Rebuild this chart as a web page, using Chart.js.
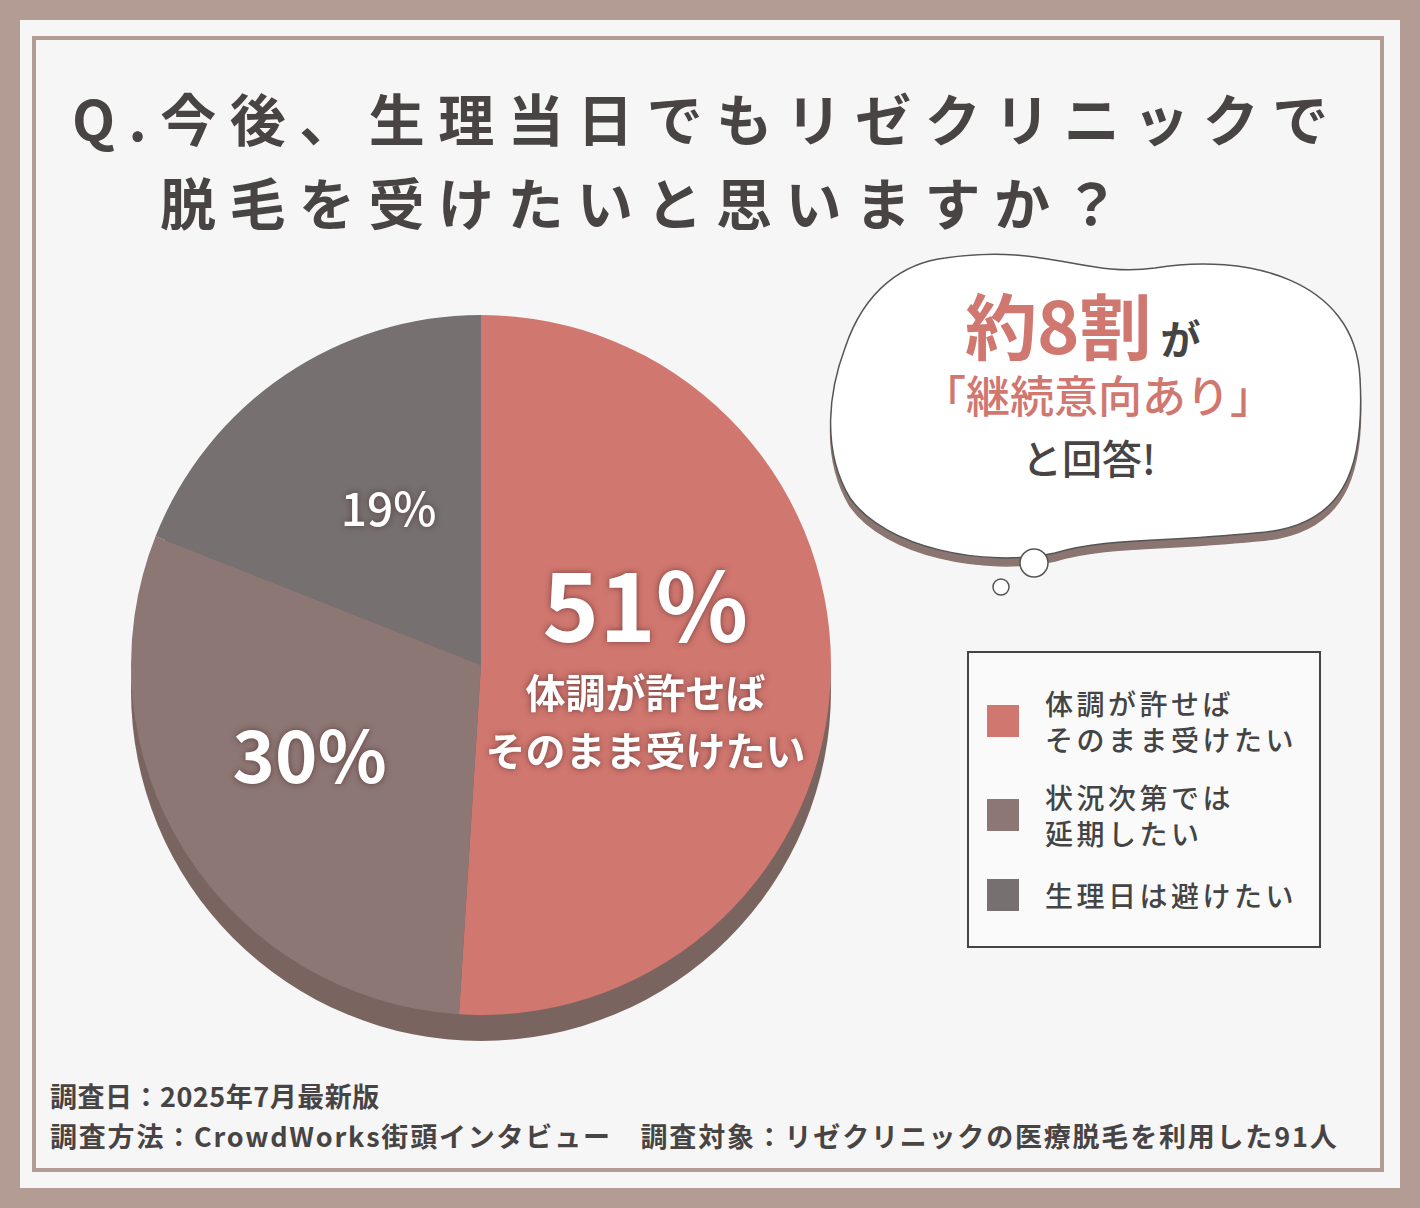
<!DOCTYPE html>
<html><head><meta charset="utf-8">
<script src="https://cdn.jsdelivr.net/npm/chart.js@4/dist/chart.umd.min.js"></script>
<style>
body{margin:0;width:1420px;height:1208px;background:#b39c93;font-family:"Noto Sans CJK JP",sans-serif;position:relative;overflow:hidden}
#card{position:absolute;left:20px;top:20px;width:1380px;height:1168px;background:#f7f6f6}
#frame{position:absolute;left:32px;top:36px;width:1352px;height:1136px;border:4px solid #b39c93;box-sizing:border-box}
.t{position:absolute;color:#484444;font-weight:700;white-space:nowrap}
#legend{position:absolute;left:967px;top:651px;width:354px;height:297px;border:2px solid #444;box-sizing:border-box;background:#fafafa}
.li{position:absolute;left:20px;font-size:28px;color:#444;font-weight:500;line-height:36px;letter-spacing:3.5px}
.sw{position:absolute;width:32px;height:32px;left:-2px}
canvas{position:absolute}
</style></head><body>
<div id="card"></div><div id="frame"></div>
<div class="t" style="left:72px;top:76px;font-size:56px;letter-spacing:13.5px">Q.今後、生理当日でもリゼクリニックで</div>
<div class="t" style="left:160px;top:160px;font-size:56px;letter-spacing:13.5px">脱毛を受けたいと思いますか？</div>
<svg style="position:absolute;left:820px;top:240px" width="550" height="370">
<path d="M120 10 C220 -5 260 30 330 20 C420 5 530 30 535 130 C540 220 520 280 430 285 C330 295 280 290 230 305 C160 320 60 300 25 250 C-5 200 5 140 20 100 C40 40 80 15 120 10 Z" fill="#fff" stroke="#555" stroke-width="1.5" transform="translate(5,8)" style="filter:drop-shadow(0 8px 0 #8a7571)"/>
<circle cx="214" cy="323" r="14" fill="#fff" stroke="#555" stroke-width="1.5"/>
<circle cx="181" cy="347" r="8" fill="#fff" stroke="#555" stroke-width="1.5"/>
</svg>
<div class="t" style="left:965px;top:270px;font-size:72px;color:#d0776f">約8割<span style="font-size:40px;color:#444"> が</span></div>
<div class="t" style="left:922px;top:362px;font-size:44px;color:#d0776f;font-weight:500">「継続意向あり」</div>
<div class="t" style="left:1022px;top:428px;font-size:40px;font-weight:500">と回答!</div>
<div id="legend">
<div class="li" style="top:32px"><div class="sw" style="top:20px;background:#d0776f"></div><div style="padding-left:56px">体調が許せば<br>そのまま受けたい</div></div>
<div class="li" style="top:126px"><div class="sw" style="top:20px;background:#8c7774"></div><div style="padding-left:56px">状況次第では<br>延期したい</div></div>
<div class="li" style="top:224px"><div class="sw" style="top:2px;background:#767070"></div><div style="padding-left:56px">生理日は避けたい</div></div>
</div>
<div class="t" style="left:50px;top:1076px;font-size:27px;font-weight:600;letter-spacing:0.5px">調査日：2025年7月最新版</div>
<div class="t" style="left:50px;top:1116px;font-size:27px;font-weight:600;letter-spacing:1.8px">調査方法：CrowdWorks街頭インタビュー　調査対象：リゼクリニックの医療脱毛を利用した91人</div>
<canvas id="c" width="760" height="760" style="left:101px;top:285px"></canvas>
<script>
// survey answers
const categories = ["体調が許せばそのまま受けたい", "状況次第では延期したい", "生理日は避けたい"];
const values = [51, 30, 19];
const colors = ["#d0776f", "#8c7774", "#767070"];

// darker rim under the pie for the 3D look
const rim = {
    id: "rim",
    beforeDatasetsDraw(chart) {
        const a = chart.getDatasetMeta(0).data[0];
        const ctx = chart.ctx;
        ctx.save();
        ctx.fillStyle = "#7a6460";
        ctx.beginPath();
        ctx.arc(a.x, a.y + 26, a.outerRadius, 0, Math.PI * 2);
        ctx.fill();
        ctx.restore();
    }
};

// percent text inside slices
const labels = {
    id: "labels",
    afterDatasetsDraw(chart) {
        const ctx = chart.ctx;
        const arcs = chart.getDatasetMeta(0).data;
        const spec = [
            { r: 0.47, dy: -65, font: "700 96px 'Noto Sans CJK JP'" },
            { r: 0.58, dy: -18, font: "700 72px 'Noto Sans CJK JP'" },
            { r: 0.47, dy: -20, font: "500 46px 'Noto Sans CJK JP'" }
        ];
        ctx.save();
        ctx.textAlign = "center";
        ctx.textBaseline = "middle";
        ctx.fillStyle = "#fff";
        ctx.shadowColor = "rgba(80,40,40,0.7)";
        ctx.shadowBlur = 6;
        arcs.forEach((a, i) => {
            const mid = (a.startAngle + a.endAngle) / 2;
            const x = a.x + Math.cos(mid) * a.outerRadius * spec[i].r;
            const y = a.y + Math.sin(mid) * a.outerRadius * spec[i].r + spec[i].dy;
            ctx.font = spec[i].font;
            ctx.fillText(values[i] + "%", x, y);
            if (i === 0) {
                ctx.font = "700 40px 'Noto Sans CJK JP'";
                ctx.fillText("体調が許せば", x, y + 88);
                ctx.fillText("そのまま受けたい", x, y + 146);
            }
        });
        ctx.restore();
    }
};

new Chart(document.getElementById("c"), {
    type: "pie",
    data: { labels: categories, datasets: [{ data: values, backgroundColor: colors, borderWidth: 0 }] },
    options: {
        responsive: false,
        animation: false,
        layout: { padding: { left: 30, right: 30, top: 30, bottom: 30 } },
        plugins: { legend: { display: false }, tooltip: { enabled: false } }
    },
    plugins: [rim, labels]
});
</script>
</body></html>
